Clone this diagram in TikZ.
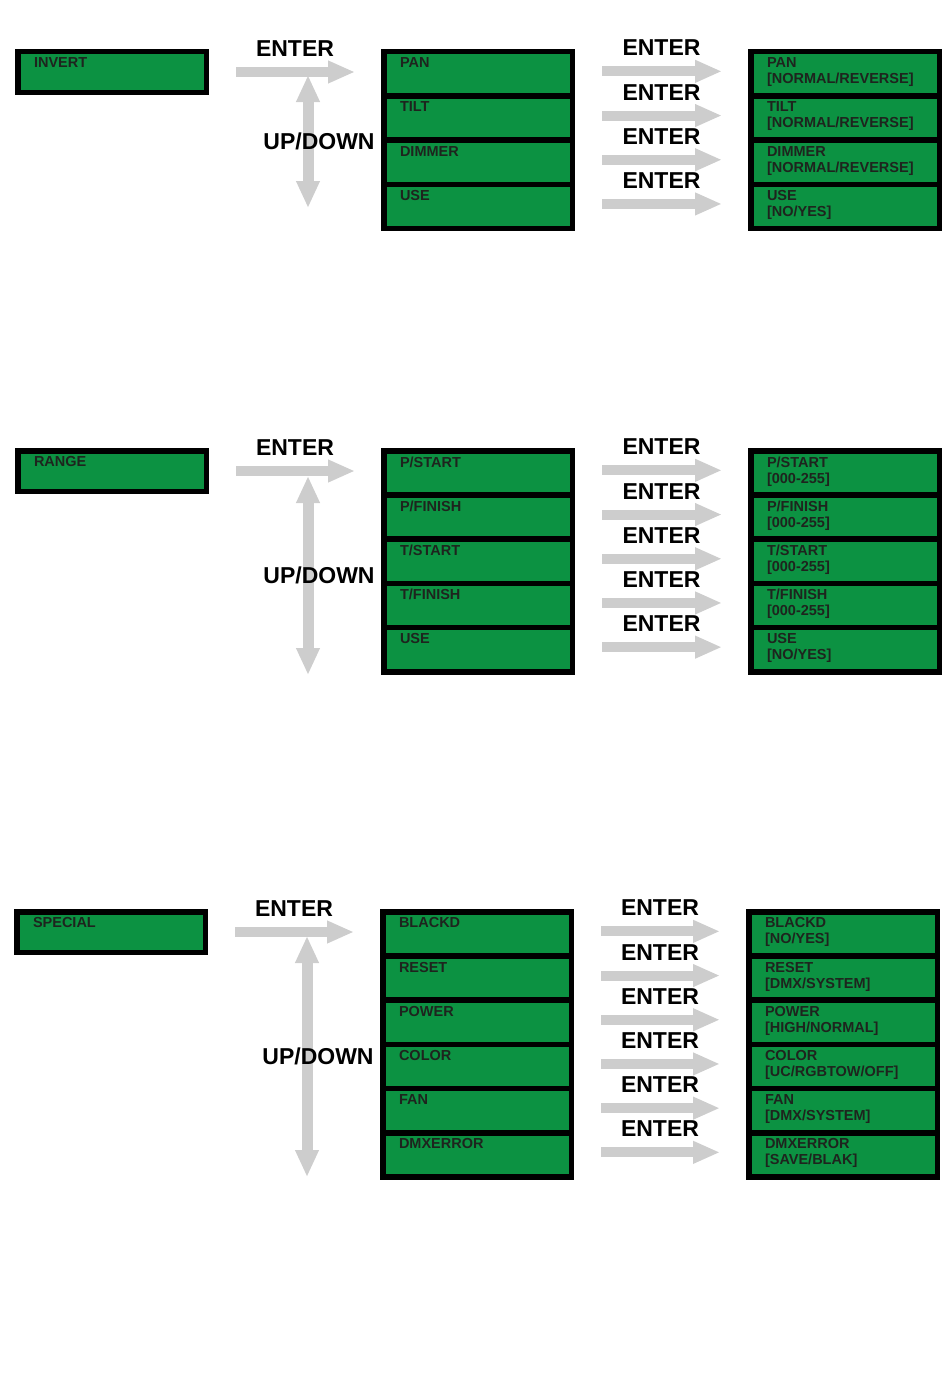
\documentclass[tikz,border=0pt]{standalone}
\usepackage{fontspec}
\setmainfont{Liberation Sans}
\usetikzlibrary{arrows.meta}
\definecolor{lcdgreen}{RGB}{12,146,66}
\definecolor{keygray}{RGB}{205,205,205}
\definecolor{lcdtext}{RGB}{30,36,30}
\newcommand{\lcd}[2][32.1pt]{\parbox[c][#1][t]{156pt}{#2}}
\tikzset{
  lcdcell/.style={draw=black, fill=lcdgreen, line width=5.5pt, outer sep=0pt, inner sep=0pt,
    minimum width=188.5pt, minimum height=44.2pt, anchor=north west, text=lcdtext,
    font=\fontsize{14.5}{16}\selectfont\bfseries},
  lcdmenu/.style={lcdcell, minimum height=40.5pt},
  enterarrow/.style={keygray, line width=10pt, -{Triangle[length=27pt,width=21pt]},
    shorten <=29.75pt, shorten >=28.75pt},
  updown/.style={keygray, line width=11pt,
    {Triangle[length=27pt,width=22pt]}-{Triangle[length=27pt,width=22pt]}},
  keylabel/.style={font=\fontsize{23}{23}\selectfont\bfseries, inner sep=0pt, outer sep=0pt, text=black}
}
\begin{document}
\begin{tikzpicture}[x=1pt,y=-1pt]
\useasboundingbox (0,0) rectangle (950,1397);

% INVERT
\node [lcdmenu] (invert) at (17.75,51.75) {\lcd[28.4pt]{INVERT}};
\foreach \a/\b [count=\i] in {PAN/{NORMAL/REVERSE}, TILT/{NORMAL/REVERSE},
  DIMMER/{NORMAL/REVERSE}, USE/{NO/YES}}
{
  \node [lcdcell] (inv\i) at (383.75,{51.75+(\i-1)*44.2}) {\lcd{\a}};
  \node [lcdcell] (invv\i) at (750.75,{51.75+(\i-1)*44.2}) {\lcd{\a\\\relax[\b]}};
  \draw [enterarrow] ([yshift=2.5pt]inv\i.east) -- node [keylabel, above=15.4pt] {ENTER} ([yshift=2.5pt]invv\i.west);
}
\draw [enterarrow] (invert.east) -- node [keylabel, above=15.4pt] {ENTER} (invert.east -| inv1.west);
\coordinate (invup) at (308,75);
\coordinate (invdown) at (308,208);
\draw [updown] (invup) -- node [keylabel, xshift=11pt] {UP/DOWN} (invdown);

% RANGE
\node [lcdmenu] (range) at (17.75,450.75) {\lcd[28.4pt]{RANGE}};
\foreach \a/\b [count=\i] in {{P/START}/{000-255}, {P/FINISH}/{000-255},
  {T/START}/{000-255}, {T/FINISH}/{000-255}, USE/{NO/YES}}
{
  \node [lcdcell] (rng\i) at (383.75,{450.75+(\i-1)*44.2}) {\lcd{\a}};
  \node [lcdcell] (rngv\i) at (750.75,{450.75+(\i-1)*44.2}) {\lcd{\a\\\relax[\b]}};
  \draw [enterarrow] ([yshift=2.5pt]rng\i.east) -- node [keylabel, above=15.4pt] {ENTER} ([yshift=2.5pt]rngv\i.west);
}
\draw [enterarrow] (range.east) -- node [keylabel, above=15.4pt] {ENTER} (range.east -| rng1.west);
\coordinate (rngup) at (308,476);
\coordinate (rngdown) at (308,675);
\draw [updown] (rngup) -- node [keylabel, xshift=11pt] {UP/DOWN} (rngdown);

% SPECIAL
\node [lcdmenu] (special) at (16.75,911.75) {\lcd[28.4pt]{SPECIAL}};
\foreach \a/\b [count=\i] in {BLACKD/{NO/YES}, RESET/{DMX/SYSTEM}, POWER/{HIGH/NORMAL},
  COLOR/{UC/RGBTOW/OFF}, FAN/{DMX/SYSTEM}, DMXERROR/{SAVE/BLAK}}
{
  \node [lcdcell] (spc\i) at (382.75,{911.75+(\i-1)*44.2}) {\lcd{\a}};
  \node [lcdcell] (spcv\i) at (748.75,{911.75+(\i-1)*44.2}) {\lcd{\a\\\relax[\b]}};
  \draw [enterarrow] ([yshift=2.5pt]spc\i.east) -- node [keylabel, above=15.4pt] {ENTER} ([yshift=2.5pt]spcv\i.west);
}
\draw [enterarrow] (special.east) -- node [keylabel, above=15.4pt] {ENTER} (special.east -| spc1.west);
\coordinate (spcup) at (307,936);
\coordinate (spcdown) at (307,1177);
\draw [updown] (spcup) -- node [keylabel, xshift=11pt] {UP/DOWN} (spcdown);

\end{tikzpicture}
\end{document}
